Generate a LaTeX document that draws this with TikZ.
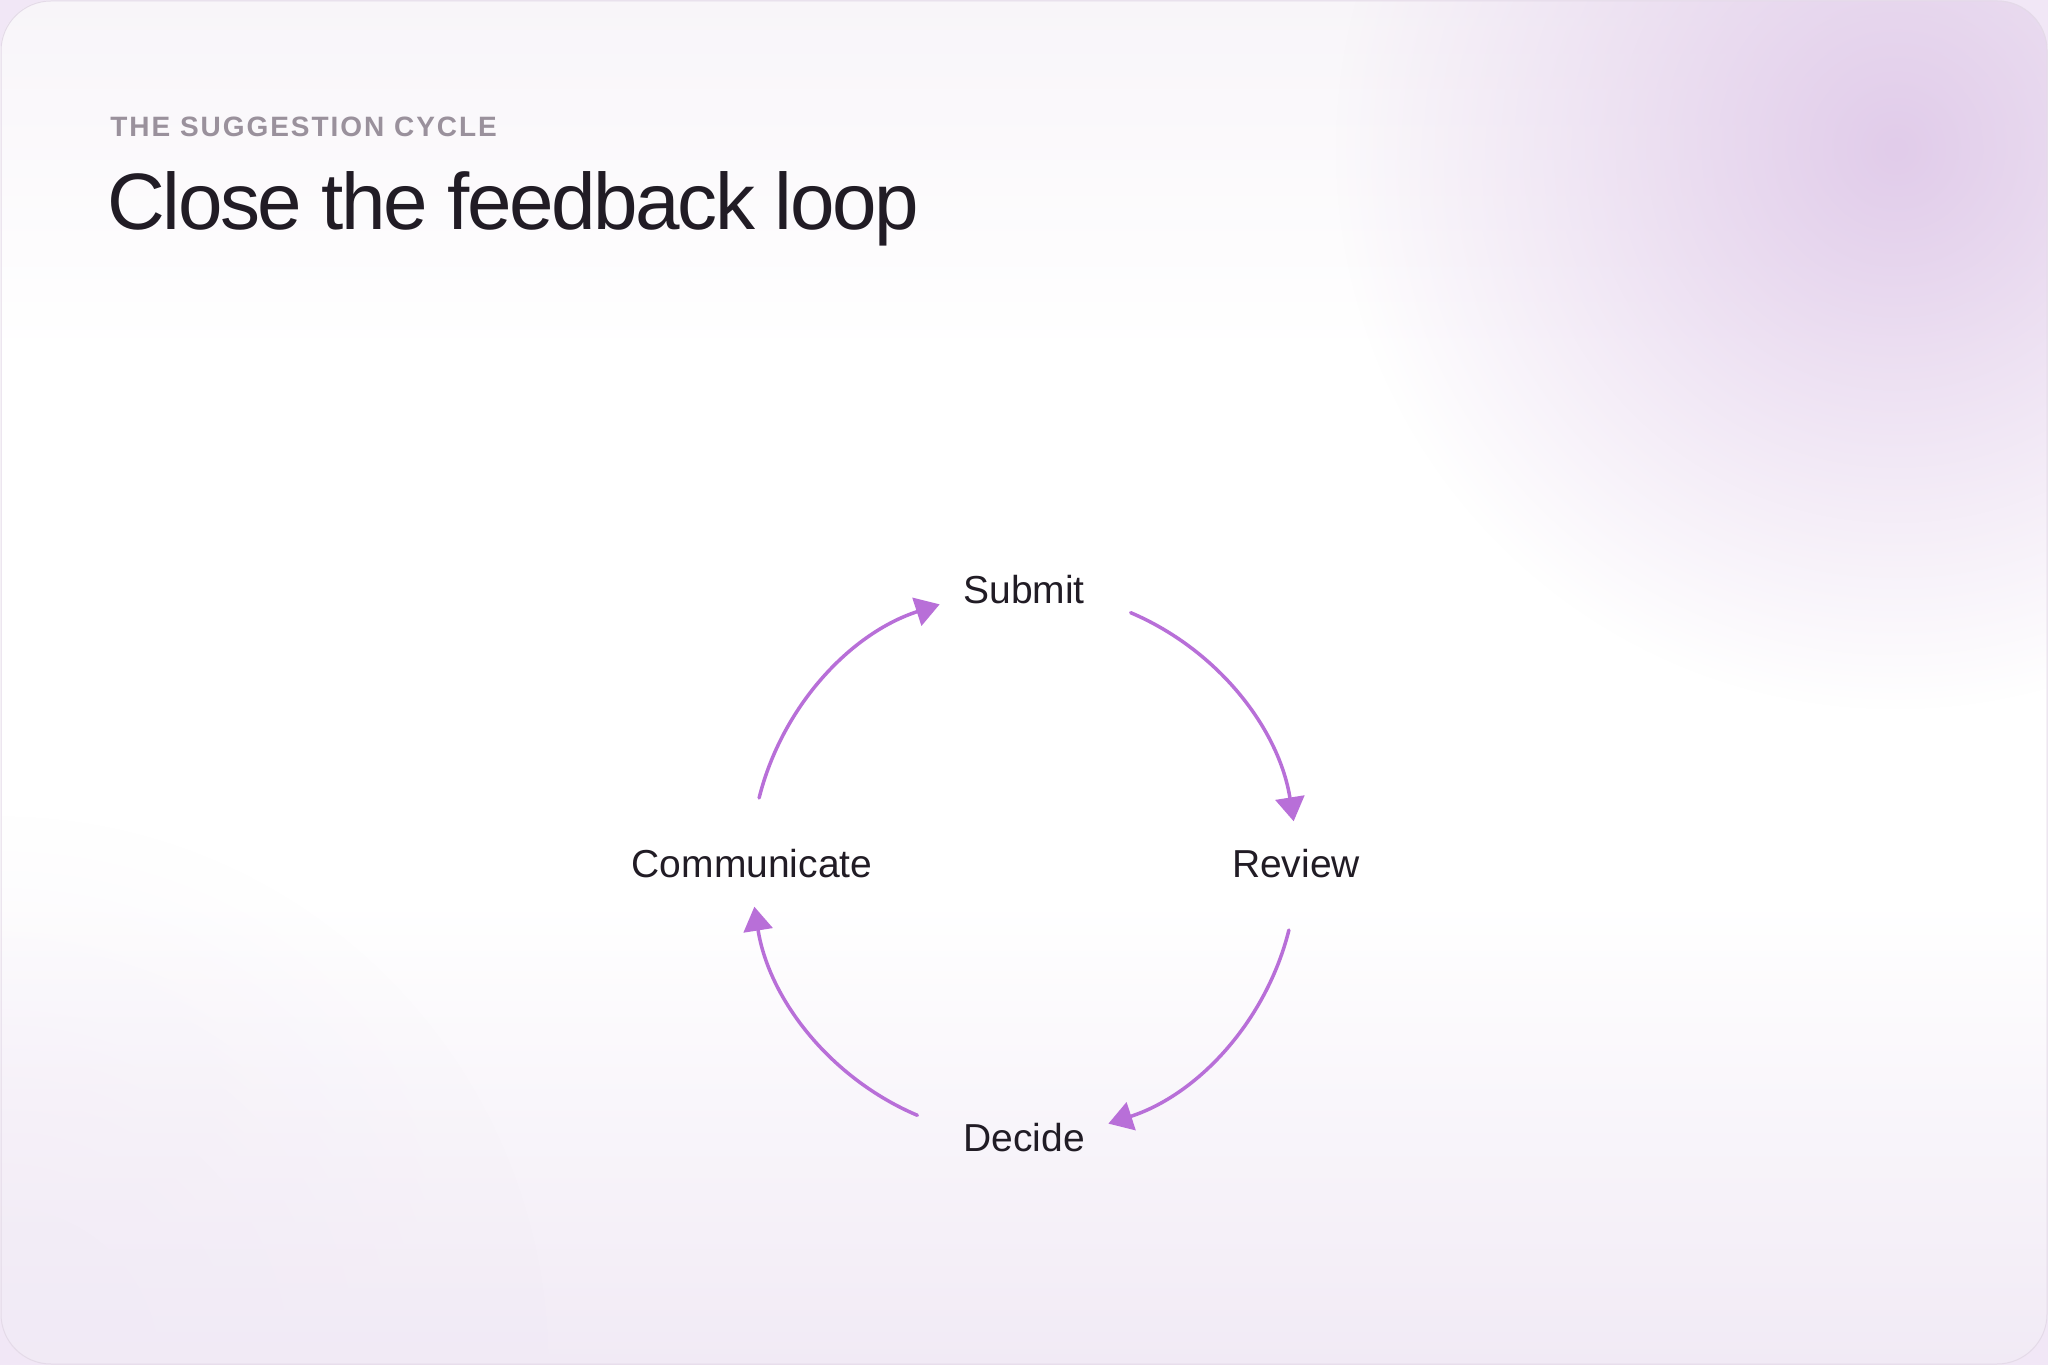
\documentclass[tikz,border=0pt]{standalone}
\usepackage{fontspec}
\setmainfont{Liberation Sans}
\newfontfamily\titlefont[LetterSpace=-3.1]{Liberation Sans}
\newfontfamily\kickerfont[LetterSpace=7]{Liberation Sans}
\usetikzlibrary{arrows.meta,fadings,calc}
\definecolor{ink}{HTML}{211C25}
\definecolor{kickergray}{HTML}{9A919C}
\definecolor{loopcol}{HTML}{B86FD8}
\definecolor{outsidecol}{HTML}{F1E7F6}
\definecolor{bgtop}{HTML}{F8F5F9}
\definecolor{bgbot}{HTML}{F1EAF5}
\definecolor{glowcol}{HTML}{E1CCEA}
\definecolor{lowglow}{HTML}{F1EAF6}
\definecolor{cardline}{HTML}{E4DAE8}
\pgfdeclareverticalshading{cardbg}{100bp}{color(0bp)=(bgbot); color(25bp)=(bgbot); color(42bp)=(white); color(62bp)=(white); color(75bp)=(bgtop); color(100bp)=(bgtop)}
\tikzfading[name=glowfade, inner color=transparent!0, outer color=transparent!100]
\begin{document}
\begin{tikzpicture}[x=0.5pt,y=0.5pt,
  steplabel/.style={inner sep=0pt, anchor=base, text=ink, font=\fontsize{19.5}{23}\selectfont},
  loopline/.style={draw=loopcol, line width=1.75pt, line cap=round, -{Triangle[length=12pt,width=14.5pt]}}]
\useasboundingbox (0,0) rectangle (2048,1365);
\fill[outsidecol] (0,0) rectangle (2048,1365);
\begin{scope}
  \clip[rounded corners=25pt] (0.5,0.5) rectangle (2047.5,1364.5);
  \shade[shading=cardbg] (0,0) rectangle (2048,1365);
  \fill[lowglow, fill opacity=0.7, path fading=glowfade] (0,0) circle (550);
  \fill[glowcol, path fading=glowfade] (1896,1216) circle (560);
\end{scope}
\draw[cardline, line width=0.5pt, rounded corners=25pt] (1,1) rectangle (2047,1364);

\node[inner sep=0pt, anchor=base west, text=kickergray, font=\kickerfont\bfseries\fontsize{14}{17}\selectfont] (kicker) at (110,1228) {THE SUGGESTION CYCLE};
\node[inner sep=0pt, anchor=base west, text=ink, font=\titlefont\fontsize{40}{48}\selectfont] (title) at (107,1135) {Close the feedback loop};

\node[steplabel] (sub) at (1024,761) {Submit};
\node[steplabel] (rev) at (1296,487) {Review};
\node[steplabel] (dec) at (1024,214) {Decide};
\node[steplabel] (com) at (752,487) {Communicate};

\coordinate (c) at (1024,501);
\draw[loopline] ($(c)+(67:273)$) arc[start angle=67, end angle=9, radius=273];
\draw[loopline] ($(c)+(-14:273)$) arc[start angle=-14, end angle=-72, radius=273];
\draw[loopline] ($(c)+(-113:273)$) arc[start angle=-113, end angle=-171, radius=273];
\draw[loopline] ($(c)+(166:273)$) arc[start angle=166, end angle=108, radius=273];
\end{tikzpicture}
\end{document}
